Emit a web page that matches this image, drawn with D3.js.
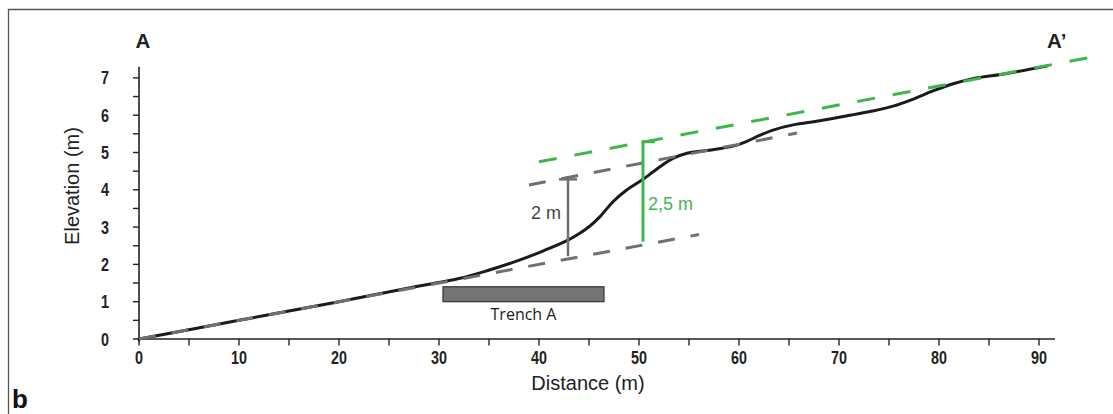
<!DOCTYPE html>
<html>
<head>
<meta charset="utf-8">
<script src="https://cdn.jsdelivr.net/npm/d3@7"></script>
<style>
  html, body { margin: 0; padding: 0; background: #fff; }
  svg { display: block; }
</style>
</head>
<body>
<svg id="chart" width="1113" height="414"></svg>
<script>
// ---- data ----
const xTickValues = [0, 10, 20, 30, 40, 50, 60, 70, 80, 90];
const xMinorTicks = [0, 5, 10, 15, 20, 25, 30, 35, 40, 45, 50, 55, 60, 65, 70, 75, 80, 85, 90];
const yTickValues = [0, 1, 2, 3, 4, 5, 6, 7];
const yMinorTicks = [0, 0.5, 1, 1.5, 2, 2.5, 3, 3.5, 4, 4.5, 5, 5.5, 6, 6.5, 7];

// topographic profile A-A'
const profileDistance = [0, 10, 20, 28, 32, 34.8, 38.1, 40.5, 42.9, 44, 45.1, 46.1, 47.4, 48.8, 50.4, 52, 53.4, 54.8, 57, 59.4, 60.8, 62, 63.4, 65.4, 68.1, 71.1, 73.5, 75.5, 77.5, 79.4, 81.5, 83.4, 86.8, 90.8];
const profileElevation = [0, 0.5, 1.0, 1.42, 1.62, 1.83, 2.12, 2.37, 2.65, 2.82, 3.03, 3.28, 3.68, 4.0, 4.28, 4.6, 4.84, 4.98, 5.06, 5.17, 5.3, 5.45, 5.6, 5.74, 5.85, 6.0, 6.12, 6.25, 6.44, 6.65, 6.85, 6.98, 7.12, 7.32];

// fitted surfaces (dashed)
const lowerSurfaceX = [0, 56];
const lowerSurfaceY = [0, 2.8];
const upperSurfaceX = [39, 65.8];
const upperSurfaceY = [4.13, 5.52];
const greenSurfaceX = [40, 95.5];
const greenSurfaceY = [4.75, 7.57];

// offset bars
const grayBar = { d: 42.9, from: 2.22, to: 4.28, label: "2 m" };
const greenBar = { d: 50.4, from: 2.61, to: 5.29, label: "2,5 m" };

// trench
const trench = { from: 30.4, to: 46.5, bottom: 1.0, top: 1.4, label: "Trench A" };

// ---- drawing ----
const svg = d3.select("#chart");
const x = d3.scaleLinear().domain([0, 91.6]).range([139, 1055]);
const y = d3.scaleLinear().domain([0, 7.3]).range([339, 66.7]);

const GREEN = "#3fb64b";
const GRAY = "#707070";
const BLACK = "#1b1b1b";
const TICKFONT = "'Liberation Sans', Arial, sans-serif";

// frame
svg.append("path")
  .attr("d", "M8.5,420 L8.5,9.5 L1120,9.5")
  .attr("fill", "none").attr("stroke", "#555").attr("stroke-width", 1.3);

// axes
const xAxisG = svg.append("g").attr("transform", `translate(0,${y(0)})`);
xAxisG.append("line").attr("x1", x(0)).attr("x2", x(91.6)).attr("y1", 0).attr("y2", 0)
  .attr("stroke", "#222").attr("stroke-width", 1.6);
xAxisG.selectAll("line.tick").data(xMinorTicks).join("line")
  .attr("class", "tick")
  .attr("x1", d => x(d)).attr("x2", d => x(d)).attr("y1", 0).attr("y2", 6.5)
  .attr("stroke", "#222").attr("stroke-width", 1.4);
xAxisG.selectAll("text").data(xTickValues).join("text")
  .attr("transform", d => `translate(${x(d)},24.5) scale(0.82,1)`)
  .attr("text-anchor", "middle")
  .attr("font-family", TICKFONT)
  .attr("font-weight", "bold").attr("font-size", 17.5).attr("fill", "#222")
  .text(d => d);

const yAxisG = svg.append("g").attr("transform", `translate(${x(0)},0)`);
yAxisG.append("line").attr("x1", 0).attr("x2", 0).attr("y1", y(0) + 3).attr("y2", y(7.3))
  .attr("stroke", "#222").attr("stroke-width", 1.6);
yAxisG.selectAll("line.tick").data(yMinorTicks).join("line")
  .attr("class", "tick")
  .attr("x1", -6).attr("x2", 0).attr("y1", d => y(d)).attr("y2", d => y(d))
  .attr("stroke", "#222").attr("stroke-width", 1.4);
yAxisG.selectAll("text").data(yTickValues).join("text")
  .attr("transform", d => `translate(-30,${y(d) + 6.5}) scale(0.82,1)`)
  .attr("text-anchor", "end")
  .attr("font-family", TICKFONT)
  .attr("font-weight", "bold").attr("font-size", 17.5).attr("fill", "#222")
  .text(d => d);

// axis titles
svg.append("text").attr("x", 588).attr("y", 390).attr("text-anchor", "middle")
  .attr("font-family", "'Liberation Sans', Arial, sans-serif").attr("font-size", 20).attr("fill", "#222")
  .text("Distance (m)");
svg.append("text").attr("transform", "translate(79,186) rotate(-90)").attr("text-anchor", "middle")
  .attr("font-family", "'Liberation Sans', Arial, sans-serif").attr("font-size", 20).attr("fill", "#222")
  .text("Elevation (m)");

// A / A' / b labels
svg.append("text").attr("x", 143).attr("y", 48).attr("text-anchor", "middle")
  .attr("font-family", "'Liberation Sans', Arial, sans-serif").attr("font-weight", "bold").attr("font-size", 20.5).attr("fill", "#222")
  .text("A");
svg.append("text").attr("x", 1047).attr("y", 48)
  .attr("font-family", "'Liberation Sans', Arial, sans-serif").attr("font-weight", "bold").attr("font-size", 20.5).attr("fill", "#222")
  .text("A\u2019");
svg.append("text").attr("x", 12).attr("y", 408)
  .attr("font-family", "'Liberation Sans', Arial, sans-serif").attr("font-weight", "bold").attr("font-size", 26).attr("fill", "#111")
  .text("b");

// trench
svg.append("rect")
  .attr("x", x(trench.from)).attr("y", y(trench.top))
  .attr("width", x(trench.to) - x(trench.from)).attr("height", y(trench.bottom) - y(trench.top))
  .attr("fill", "#747474").attr("stroke", "#333").attr("stroke-width", 1.2);
svg.append("text").attr("x", x((trench.from + trench.to) / 2)).attr("y", 320).attr("text-anchor", "middle")
  .attr("font-family", "'Open Sans', 'Noto Sans', sans-serif").attr("font-size", 16).attr("fill", "#1a1a1a")
  .text(trench.label);

// profile
const profile = profileDistance.map((d, i) => [d, profileElevation[i]]);
const line = d3.line().x(d => x(d[0])).y(d => y(d[1])).curve(d3.curveCatmullRom.alpha(0.5));
svg.append("path").datum(profile).attr("d", line)
  .attr("fill", "none").attr("stroke", BLACK).attr("stroke-width", 3).attr("stroke-linecap", "round");

// dashed surfaces
function dashed(xs, ys, color, dash) {
  const pts = xs.map((d, i) => [d, ys[i]]);
  svg.append("path").datum(pts).attr("d", d3.line().x(d => x(d[0])).y(d => y(d[1])))
    .attr("fill", "none").attr("stroke", color).attr("stroke-width", 3)
    .attr("stroke-dasharray", dash);
}
dashed(lowerSurfaceX, lowerSurfaceY, GRAY, "17,16");
dashed(upperSurfaceX, upperSurfaceY, GRAY, "17,16");
dashed(greenSurfaceX, greenSurfaceY, GREEN, "18,18");

// offset bars
svg.append("line").attr("x1", x(grayBar.d)).attr("x2", x(grayBar.d))
  .attr("y1", y(grayBar.from)).attr("y2", y(grayBar.to))
  .attr("stroke", GRAY).attr("stroke-width", 2.5);
svg.append("line").attr("x1", x(grayBar.d) - 9).attr("x2", x(grayBar.d) + 9)
  .attr("y1", y(grayBar.to)).attr("y2", y(grayBar.to))
  .attr("stroke", GRAY).attr("stroke-width", 2.5);
svg.append("text").attr("x", x(grayBar.d) - 7).attr("y", 219).attr("text-anchor", "end")
  .attr("font-family", "'Liberation Sans', Arial, sans-serif").attr("font-size", 18).attr("fill", "#444")
  .text(grayBar.label);

svg.append("line").attr("x1", x(greenBar.d)).attr("x2", x(greenBar.d))
  .attr("y1", y(greenBar.from)).attr("y2", y(greenBar.to))
  .attr("stroke", GREEN).attr("stroke-width", 3);
svg.append("line").attr("x1", x(greenBar.d) - 1.5).attr("x2", x(greenBar.d) + 12)
  .attr("y1", y(greenBar.to)).attr("y2", y(greenBar.to))
  .attr("stroke", GREEN).attr("stroke-width", 3);
svg.append("text").attr("x", x(greenBar.d) + 5).attr("y", 210)
  .attr("font-family", "'Liberation Sans', Arial, sans-serif").attr("font-size", 18).attr("fill", GREEN)
  .text(greenBar.label);
</script>
</body>
</html>
